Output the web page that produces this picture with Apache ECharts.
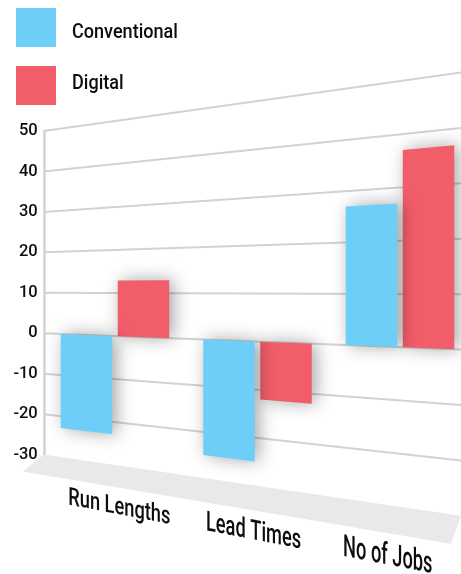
<!DOCTYPE html>
<html><head><meta charset="utf-8">
<style>html,body{margin:0;padding:0;background:#fff}#c{width:461px;height:574px}</style>
<script src="https://cdn.jsdelivr.net/npm/echarts@6/dist/echarts.min.js"></script>
</head><body><div id="c"></div>
<script>
const categories = ['Run Lengths', 'Lead Times', 'No of Jobs'];
const conventional = [-22.9, -25, 27];
const digital = [12.9, -12, 37];
const yTicks = [50, 40, 30, 20, 10, 0, -10, -20, -30];
const legendNames = ['Conventional', 'Digital'];

const FONT = 'Roboto,sans-serif';
const INK = '#0d0d0d';
const BLUE = '#6dcff8', RED = '#f25d6a', LINE = '#d1d2d4', FLOOR = '#e9e9eb';
const GRID_L = 43.75, RIGHT_X = 461, SPAN = 417.25;
const DROP = 16.3, GROW = 1.37;

function project(api, x, v) {
  const yL = api.coord([0, v])[1], z = api.coord([0, 0])[1];
  const yR = z + DROP + GROW * (yL - z);
  const t = (x - GRID_L) / SPAN;
  return [x, yL + (yR - yL) * t];
}
function barItem(side, color) {
  return function (params, api) {
    const cx = api.coord([api.value(0), 0])[0];
    const band = api.size([1, 0])[0];
    const w = band * 0.361, c = cx + side * band * 0.2;
    const v = api.value(1), a = c - w / 2, b = c + w / 2;
    return {
      type: 'polygon',
      shape: { points: [project(api, a, 0), project(api, b, 0), project(api, b, v), project(api, a, v)] },
      style: { fill: color, shadowBlur: 18, shadowColor: 'rgba(0,0,0,0.36)', shadowOffsetX: 4, shadowOffsetY: 0 }
    };
  };
}
const option = {
  animation: false,
  backgroundColor: '#fff',
  legend: {
    orient: 'vertical', left: 16, top: 8, padding: 0, itemWidth: 40, itemHeight: 39, itemGap: 19,
    selectedMode: false, icon: 'rect', formatter: () => ' ',
    data: legendNames
  },
  graphic: { elements: [
    { type: 'text', left: 72, top: 22, scaleX: 0.86, silent: true,
      style: { text: legendNames[0], fontFamily: FONT, fontWeight: 500, fontSize: 21, fill: INK } },
    { type: 'text', left: 72, top: 73, scaleX: 0.86, silent: true,
      style: { text: legendNames[1], fontFamily: FONT, fontWeight: 500, fontSize: 21, fill: INK } }
  ] },
  grid: { left: GRID_L, top: 131, width: 427.5, height: 323.6, outerBoundsMode: 'none' },
  xAxis: { type: 'category', data: categories, axisLine: { show: false }, axisTick: { show: false }, axisLabel: { show: false } },
  yAxis: {
    type: 'value', min: -30, max: 50, interval: 10,
    axisLine: { show: true, lineStyle: { color: LINE, width: 2.5 } },
    axisTick: { show: false }, splitLine: { show: false },
    axisLabel: { color: INK, fontFamily: FONT, fontWeight: 500, fontSize: 16.5, margin: 6, padding: [3, 0, 0, 0] }
  },
  series: [
    {
      type: 'custom', name: 'floor', silent: true, z: 1, data: [[0]],
      renderItem(p, api) {
        const a = project(api, GRID_L, -30), b = project(api, RIGHT_X, -30);
        return { type: 'polygon',
          shape: { points: [a, b, [b[0] - 10, b[1] + 28], [a[0] - 21, a[1] + 17]] },
          style: { fill: FLOOR } };
      }
    },
    {
      type: 'custom', name: 'grid', silent: true, z: 2, data: yTicks.map(v => [v]),
      renderItem(p, api) {
        const v = api.value(0);
        if (v === -30) return null;
        const a = project(api, GRID_L, v), b = project(api, RIGHT_X, v);
        return { type: 'line', shape: { x1: a[0], y1: a[1], x2: b[0], y2: b[1] }, style: { stroke: LINE, lineWidth: 2 } };
      }
    },
    { type: 'custom', name: 'Digital', z: 3, itemStyle: { color: RED }, renderItem: barItem(1, RED),
      encode: { x: 0, y: 1 }, data: digital.map((v, i) => [i, v]) },
    { type: 'custom', name: 'Conventional', z: 4, itemStyle: { color: BLUE }, renderItem: barItem(-1, BLUE),
      encode: { x: 0, y: 1 }, data: conventional.map((v, i) => [i, v]) },
    {
      type: 'custom', name: 'labels', silent: true, z: 5, data: categories.map((c, i) => [i]),
      renderItem(p, api) {
        const i = api.value(0);
        const cx = 11 + 0.942 * api.coord([i, 0])[0];
        const pt = project(api, cx, -39.8);
        const local = (project(api, cx, 0)[1] - project(api, cx, 10)[1]) / 10;
        return { type: 'text', x: pt[0], y: pt[1], skewY: -0.19, scaleX: 0.83, scaleY: local / 3.8,
          style: { text: categories[i], fontFamily: FONT, fontWeight: 500, fontSize: 22, fill: INK, align: 'center', verticalAlign: 'middle' } };
      }
    }
  ]
};
const chart = echarts.init(document.getElementById('c'));
chart.setOption(option);
</script></body></html>
